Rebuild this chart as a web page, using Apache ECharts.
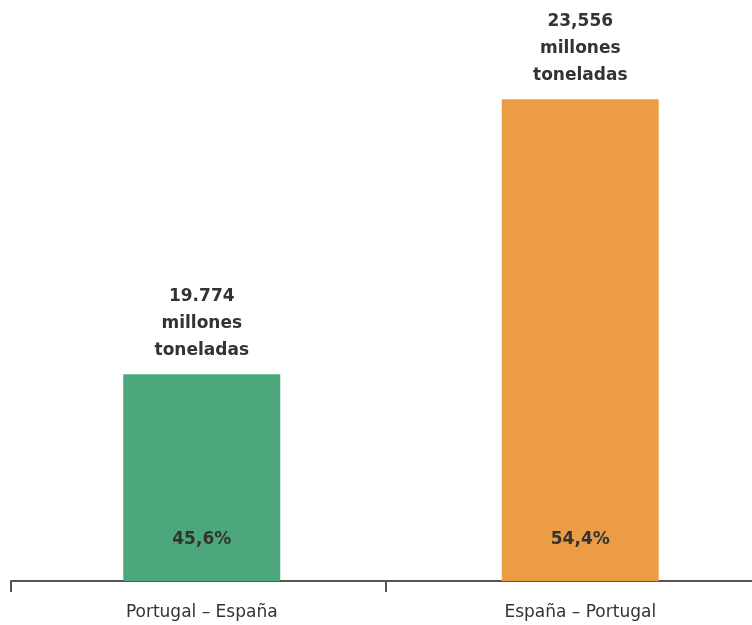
<!DOCTYPE html>
<html>
<head>
<meta charset="utf-8">
<script src="https://cdn.jsdelivr.net/npm/echarts@6/dist/echarts.min.js"></script>
<style>html,body{margin:0;padding:0;background:#fff}#c{width:752px;height:625px}</style>
</head>
<body>
<div id="c"></div>
<script>
const categories = ['Portugal – España', 'España – Portugal'];
const values = [19.774, 23.556];
const valueLabels = ['19.774', '23,556'];
const shares = ['45,6%', '54,4%'];
const colors = ['#4ca87c', '#eb9c45'];

const chart = echarts.init(document.getElementById('c'));
const yMin = 16.93, yMax = 24.92;
const font = '"DejaVu Sans", sans-serif';
chart.setOption({
  animation: false,
  grid: [
    {left: 11, width: 750, top: 0, bottom: 44, outerBoundsMode: 'none', containLabel: false},
    {left: 12.5, width: 757, top: 0, bottom: 44, outerBoundsMode: 'none', containLabel: false}
  ],
  xAxis: [
    {type: 'category', gridIndex: 0, data: categories,
     axisLine: {show: true, lineStyle: {color: '#555', width: 2}},
     axisTick: {show: true, length: 11, alignWithLabel: false, interval: 0, lineStyle: {color: '#555', width: 2}},
     axisLabel: {show: false}},
    {type: 'category', gridIndex: 1, data: categories,
     axisLine: {show: false}, axisTick: {show: false},
     axisLabel: {color: '#333', fontSize: 17, fontFamily: font, margin: 23}}
  ],
  yAxis: [
    {type: 'value', gridIndex: 0, min: yMin, max: yMax, show: false},
    {type: 'value', gridIndex: 1, min: yMin, max: yMax, show: false}
  ],
  series: [
    {type: 'bar', xAxisIndex: 1, yAxisIndex: 1, barWidth: 157,
     data: values.map((v, i) => ({value: v, itemStyle: {color: colors[i]}})),
     label: {show: true, position: 'top', distance: 10, color: '#333',
       fontSize: 17, fontWeight: 'bold', fontFamily: font, lineHeight: 27, align: 'center',
       formatter: p => valueLabels[p.dataIndex] + '\nmillones\ntoneladas'}},
    {type: 'bar', xAxisIndex: 1, yAxisIndex: 1, barWidth: 157, barGap: '-100%',
     data: values, itemStyle: {color: 'transparent'}, silent: true,
     label: {show: true, position: 'insideBottom', distance: 33, color: '#333',
       fontSize: 17, fontWeight: 'bold', fontFamily: font,
       formatter: p => shares[p.dataIndex]}}
  ]
});
</script>
</body>
</html>
